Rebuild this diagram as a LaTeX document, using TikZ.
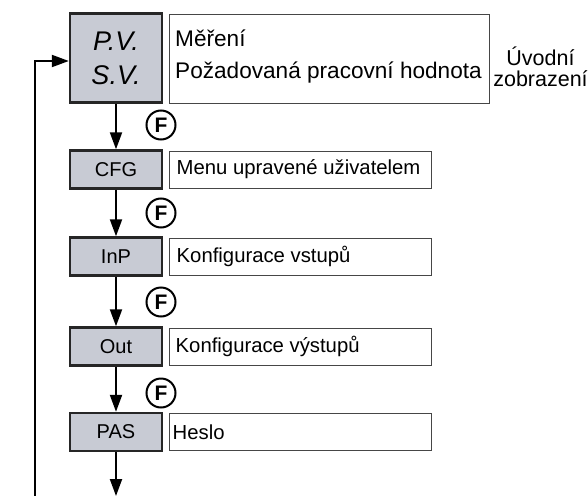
\documentclass[tikz,border=0pt]{standalone}
\usepackage{fontspec}
\setmainfont{Liberation Sans}
\usetikzlibrary{arrows.meta,calc}
\definecolor{keyfill}{RGB}{200,203,212}
\definecolor{descline}{RGB}{70,70,70}
\begin{document}
\begin{tikzpicture}[x=1pt,y=-1pt,
  keybox/.style={draw=black!85,line width=2.4pt,fill=keyfill,minimum width=92pt,
    minimum height=38pt,inner sep=0pt,font=\fontsize{20}{24}\selectfont},
  descbox/.style={draw=descline,line width=1pt,minimum width=262pt,minimum height=37pt,
    inner sep=0pt},
  desctext/.style={anchor=west,inner sep=0pt,font=\fontsize{20.3}{24}\selectfont},
  fkey/.style={draw,circle,line width=2pt,minimum size=29pt,inner sep=0pt,
    font=\fontsize{21}{22}\selectfont\bfseries},
  flow/.style={line width=2pt,-{Triangle[length=17pt,width=12pt]}},
]
\useasboundingbox (0,0) rectangle (588,495);

% main display
\node[keybox,minimum height=89pt,font=\fontsize{27}{34}\selectfont\itshape,align=center]
  (pv) at (116,58) {P.V.\\S.V.};
\node[descbox,minimum width=320pt,minimum height=88pt] (pvd) at (329,59) {};
\node[anchor=north west,inner sep=0pt,align=left,font=\fontsize{22.6}{32}\selectfont]
  (pvt) at (175,30) {Měření\\Požadovaná pracovní hodnota};
\node[align=center,inner sep=0pt,font=\fontsize{21.5}{21}\selectfont]
  (intro) at (540.5,67) {Úvodní\\zobrazení};

% menu levels
\node[keybox] (cfg) at (116,169.5) {CFG};
\node[descbox] (cfgd) at (300,169.5) {};
\node[desctext] at ($(cfgd.west)+(8,0)$) {Menu upravené uživatelem};

\node[keybox] (inp) at (116,256.5) {InP};
\node[descbox] (inpd) at (300,256.5) {};
\node[desctext] at ($(inpd.west)+(8,0)$) {Konfigurace vstupů};

\node[keybox] (out) at (116,346.5) {Out};
\node[descbox] (outd) at (300,346.5) {};
\node[desctext] at ($(outd.west)+(7,0)$) {Konfigurace výstupů};

\node[keybox] (pas) at (116,432) {PAS};
\node[descbox] (pasd) at (300,432) {};
\node[desctext] at ($(pasd.west)+(4,0)$) {Heslo};

% F key markers
\node[fkey] (f1) at (161,125) {F};
\node[fkey] (f2) at (161,213) {F};
\node[fkey] (f3) at (161,302) {F};
\node[fkey] (f4) at (161,393) {F};

% transitions
\draw[flow] (pv.south) -- (cfg.north);
\draw[flow] (cfg.south) -- (inp.north);
\draw[flow] (inp.south) -- (out.north);
\draw[flow] (out.south) -- (pas.north);
\coordinate (pasout) at (116,496);
\draw[flow] (pas.south) -- (pasout);

% return path to the main display
\coordinate (fbbot) at (35,496);
\coordinate (fbtop) at (35,61);
\draw[flow] (fbbot) -- (fbtop) -- (pv.west |- fbtop);
\end{tikzpicture}
\end{document}
